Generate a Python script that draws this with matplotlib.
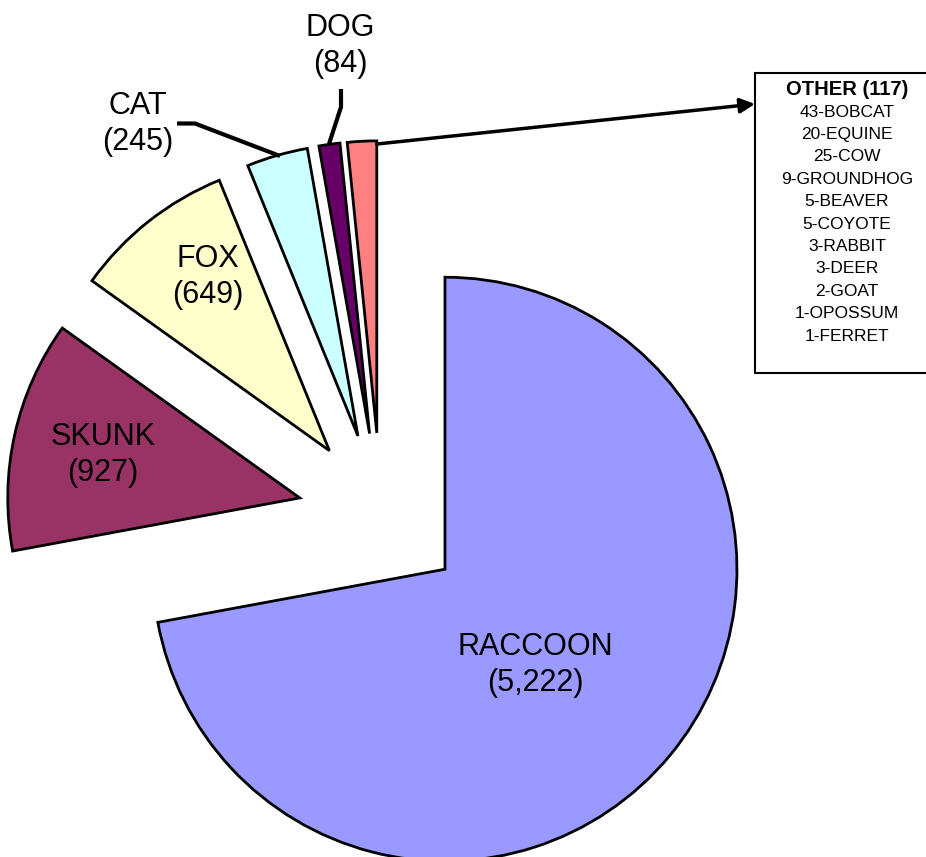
import matplotlib.pyplot as plt
from matplotlib.patches import Rectangle

plt.rcParams['font.family'] = ['Liberation Sans', 'DejaVu Sans']

animals = ['RACCOON', 'SKUNK', 'FOX', 'CAT', 'DOG', 'OTHER']
counts = [5222, 927, 649, 245, 84, 117]
colors = ['#9999FF', '#993366', '#FFFFCC', '#CCFFFF', '#660066', '#FF8080']

other_names = ['BOBCAT', 'EQUINE', 'COW', 'GROUNDHOG', 'BEAVER', 'COYOTE',
               'RABBIT', 'DEER', 'GOAT', 'OPOSSUM', 'FERRET']
other_counts = [43, 20, 25, 9, 5, 5, 3, 3, 2, 1, 1]

W, H = 926, 857
fig = plt.figure(figsize=(W / 100, H / 100), dpi=100)
ax = fig.add_axes([0, 0, 1, 1])


def p(x, y):
    # pixel position (from top-left) -> data coords
    return (x, H - y)


R = 292
# explode is in data units, so scale by radius
ax.pie(counts, colors=colors, startangle=90, counterclock=False,
       explode=[0.285 * R] * len(counts), center=p(381, 516), radius=R,
       wedgeprops=dict(edgecolor='black', linewidth=2))

ax.set_xlim(0, W)
ax.set_ylim(0, H)
ax.set_aspect('equal')
ax.axis('off')

fs = 22
label_pos = {'RACCOON': (535, 665), 'SKUNK': (103, 455), 'FOX': (208, 277),
             'CAT': (138, 124), 'DOG': (340, 46)}
for name, c in zip(animals, counts):
    if name in label_pos:
        ax.text(*p(*label_pos[name]), f'{name}\n({c:,})', ha='center',
                va='center', fontsize=fs, linespacing=1.22)

# leader lines
ax.plot(*zip(p(177, 123.5), p(195, 123.5), p(280, 156)), color='black', lw=3,
        solid_capstyle='butt')
ax.plot(*zip(p(341, 89), p(341, 107), p(329, 144)), color='black', lw=3,
        solid_capstyle='butt')
ax.annotate('', xy=p(755, 104), xytext=p(377, 144),
            arrowprops=dict(arrowstyle='-|>', color='black', lw=2.5,
                            mutation_scale=22, shrinkA=0, shrinkB=0))

# box listing the OTHER group
ax.add_patch(Rectangle(p(755, 373), 190, 300, facecolor='white',
                       edgecolor='black', lw=1.5, clip_on=True))
ax.text(*p(847, 89), f'OTHER ({counts[-1]})', ha='center', va='center',
        fontsize=14.5, fontweight='bold')
for i, (n, c) in enumerate(zip(other_names, other_counts)):
    ax.text(*p(847, 112 + i * 22.4), f'{c}-{n}', ha='center', va='center',
            fontsize=12.5)

fig.savefig('out.png', dpi=100)
